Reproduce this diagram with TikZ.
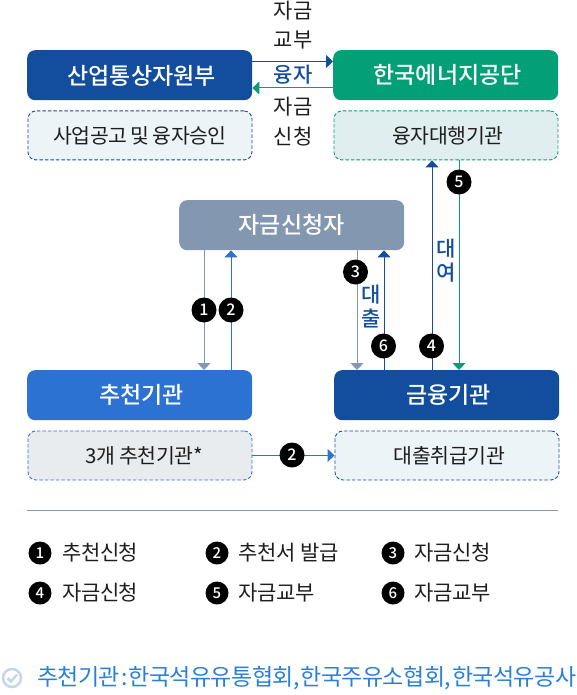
\documentclass[tikz,border=0pt]{standalone}
\usepackage{fontspec}
\setmainfont{Noto Sans CJK KR}
\usetikzlibrary{arrows.meta,calc}
\definecolor{dkblue}{HTML}{134E9E}
\definecolor{midblue}{HTML}{2C72D2}
\definecolor{teal}{HTML}{03A077}
\definecolor{slate}{HTML}{8497B0}
\definecolor{ink}{HTML}{1E1E1E}
\definecolor{linkblue}{HTML}{2A80D6}
\definecolor{fillblue}{HTML}{EDF4F8}
\definecolor{fillteal}{HTML}{E1EEEF}
\definecolor{fillgray}{HTML}{E8ECEF}
\definecolor{checkc}{HTML}{C6D5EA}
\newfontfamily\titlefont{Noto Sans CJK KR Medium}
\newfontfamily\medfont{Noto Sans CJK KR Medium}
\newfontfamily\tight[LetterSpace=-2]{Noto Sans CJK KR}
\newfontfamily\tighter[LetterSpace=-2.5]{Noto Sans CJK KR}
\tikzset{
  x=1pt,y=-1pt,
  titlebox/.style={rounded corners=8pt,minimum width=225pt,minimum height=50pt,inner sep=0pt,text=white,font=\titlefont\fontsize{23}{26}\selectfont,anchor=north west},
  subbox/.style={rounded corners=8pt,dashed,dash pattern=on 3.5pt off 2pt,line width=0.9pt,minimum width=224pt,minimum height=49pt,inner sep=0pt,text=ink,font=\tight\fontsize{20.5}{24}\selectfont,anchor=north west},
  flow/.style={line width=1pt,-{Triangle[length=7pt,width=13pt]}},
  num/.style={circle,fill=black,text=white,minimum size=25pt,inner sep=0pt,font=\medfont\fontsize{16}{16}\selectfont},
  lnum/.style={circle,fill=black,text=white,minimum size=23pt,inner sep=0pt,font=\medfont\fontsize{15}{15}\selectfont},
  midtext/.style={inner sep=0pt,text=ink,font=\fontsize{21}{23}\selectfont},
  vlabel/.style={inner sep=0pt,text=dkblue,font=\medfont\fontsize{21}{23}\selectfont},
  legend/.style={inner sep=0pt,anchor=west,text=ink,font=\tight\fontsize{21}{23}\selectfont},
}
\begin{document}
\begin{tikzpicture}
\useasboundingbox (0,0) rectangle (577,695);
% boxes
\node[titlebox,fill=dkblue,text depth=0pt] (motie) at (27,50) {\hspace{4pt}산업통상자원부};
\node[titlebox,fill=teal] (knoc) at (333,50) {\hspace{4pt}한국에너지공단};
\node[subbox,draw=dkblue,fill=fillblue] (motisub) at (27.5,110.5) {사업공고\hspace{-1pt} 및\hspace{-1pt} 융자승인};
\node[subbox,draw=teal,fill=fillteal] (knocsub) at (333.5,110.5) {\hspace{4pt}융자대행기관};
\node[titlebox,fill=slate] (appl) at (179,200) {자금신청자};
\node[titlebox,fill=midblue] (rec) at (27,370) {\hspace{4pt}추천기관};
\node[titlebox,fill=dkblue] (bank) at (334,370) {\hspace{4pt}금융기관};
\node[subbox,draw=midblue,fill=fillgray] (recsub) at (27.5,430.5) {\hspace{8pt}3개 추천기관*};
\node[subbox,draw=dkblue,fill=fillblue] (banksub) at (334.5,430.5) {\hspace{5pt}대출취급기관};
% guide coordinates
\coordinate (xa) at (204,0);
\coordinate (xb) at (231,0);
\coordinate (xc) at (357,0);
\coordinate (xd) at (384,0);
\coordinate (xe) at (432,0);
\coordinate (xf) at (459,0);
\coordinate (yt) at (0,61.5);
\coordinate (yg) at (0,88);
% connectors
\draw[flow,dkblue] (motie.east |- yt) -- (knoc.west |- yt);
\draw[flow,teal] (knoc.west |- yg) -- (motie.east |- yg);
\draw[flow,slate] (appl.south -| xa) -- (rec.north -| xa);
\draw[flow,midblue] (rec.north -| xb) -- (appl.south -| xb);
\draw[flow,slate] (appl.south -| xc) -- (bank.north -| xc);
\draw[flow,dkblue] (bank.north -| xd) -- (appl.south -| xd);
\draw[flow,dkblue] (bank.north -| xe) -- (knocsub.south -| xe);
\draw[flow,teal] (knocsub.south -| xf) -- (bank.north -| xf);
\draw[flow,midblue] (recsub.east) -- (banksub.west);
% numbered circles
\node[num] (n1) at (204,310) {1};
\node[num] (n2) at (231,310) {2};
\node[num] (n3) at (355.5,272) {3};
\node[num] (n6) at (383.5,346) {6};
\node[num] (n4) at (431.5,346) {4};
\node[num] (n5) at (459,182) {5};
\node[num] (n2b) at (292,455) {2};
% labels
\node[midtext] (t1) at (293,11) {자금};
\node[midtext] (t2) at (293,40) {교부};
\node[midtext,text=dkblue,font=\medfont\fontsize{21}{23}\selectfont] (t3) at (293,75) {융자};
\node[midtext] (t4) at (293,107) {자금};
\node[midtext] (t5) at (293,137) {신청};
\node[vlabel] (v1) at (371,295) {대};
\node[vlabel] (v2) at (371,319) {출};
\node[vlabel] (v3) at (446,249) {대};
\node[vlabel] (v4) at (446,273) {여};
% separator
\coordinate (sl) at (27,510.5);
\coordinate (sr) at (558,510.5);
\draw[slate,line width=1pt] (sl) -- (sr);
% legend
\node[lnum] (l1) at (40,553) {1};
\node[legend] (lt1) at (62,553) {추천신청};
\node[lnum] (l2) at (217,553) {2};
\node[legend] (lt2) at (238.5,553) {추천서 발급};
\node[lnum] (l3) at (393,553) {3};
\node[legend] (lt3) at (414.5,553) {자금신청};
\node[lnum] (l4) at (40,593) {4};
\node[legend] (lt4) at (62,593) {자금신청};
\node[lnum] (l5) at (217,593) {5};
\node[legend] (lt5) at (238.5,593) {자금교부};
\node[lnum] (l6) at (393,593) {6};
\node[legend] (lt6) at (414.5,593) {자금교부};
% footnote
\node[circle,draw=checkc,line width=2.5pt,minimum size=18pt,inner sep=0pt] (chk) at (12,678) {};
\draw[checkc,line width=2.5pt] ($(chk.center)+(-4.5,0)$) -- ($(chk.center)+(-1,3.5)$) -- ($(chk.center)+(5,-3.5)$);
\node[inner sep=0pt,anchor=west,text=linkblue,font=\tighter\fontsize{23}{26}\selectfont] (foot) at (37,678) {추천기관\hspace{1pt}:\hspace{1pt}한국석유유통협회,\hspace{1pt}한국주유소협회,\hspace{1pt}한국석유공사};
\end{tikzpicture}
\end{document}
